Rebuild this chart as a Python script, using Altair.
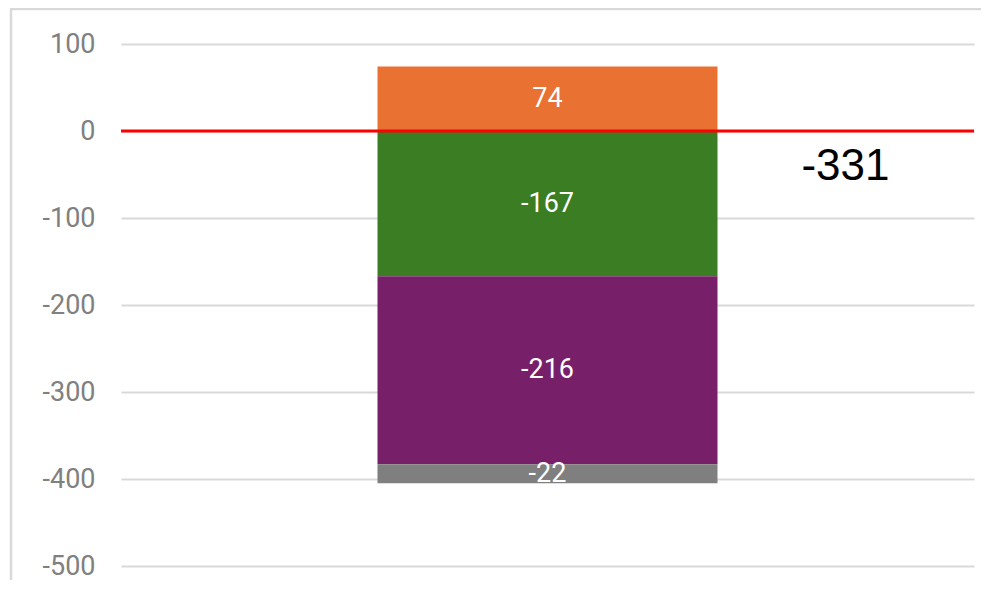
import altair as alt
import pandas as pd
import numpy as np

categories = ["A", "B", "C", "D"]
values = [74, -167, -216, -22]
colors = ["#E97132", "#3B7D23", "#772069", "#7F7F7F"]
y_ticks = [100, 0, -100, -200, -300, -400, -500]

# diverging stack: positives upward, negatives downward
starts, ends = [], []
pos, neg = 0, 0
for v in values:
    if v >= 0:
        starts.append(pos); pos += v; ends.append(pos)
    else:
        starts.append(neg); neg += v; ends.append(neg)

df = pd.DataFrame({
    "group": ["g"] * len(values),
    "cat": categories,
    "value": values,
    "label": [str(v) for v in values],
    "start": starts,
    "end": ends,
    "mid": [(s + e) / 2 for s, e in zip(starts, ends)],
})
total = int(np.sum(values))
tot_df = pd.DataFrame({"group": ["g"], "total": [str(total)], "zero": [0]})

W, H = 853, 522
yscale = alt.Scale(domain=[-500, 100], nice=False, zero=False)
xenc = alt.X("group:N", axis=None, scale=alt.Scale(paddingInner=0, paddingOuter=0))

bars = alt.Chart(df).mark_bar(size=340).encode(
    x=xenc,
    y=alt.Y("start:Q", scale=yscale,
            axis=alt.Axis(values=y_ticks, title=None, domain=False, ticks=False,
                          labelExpr="'' + datum.value",
                          labelFont="Roboto", labelFontSize=27, labelColor="#808080",
                          labelPadding=26, gridColor="#D9D9D9", gridWidth=2)),
    y2="end:Q",
    color=alt.Color("cat:N", scale=alt.Scale(domain=categories, range=colors), legend=None),
)

labels = alt.Chart(df).mark_text(color="white", font="Roboto", fontSize=27,
                                 baseline="middle", align="center").encode(
    x=xenc,
    y=alt.Y("mid:Q", scale=yscale),
    text=alt.Text("label:N"),
)

zero_line = alt.Chart(tot_df).mark_rule(color="#FF0000", strokeWidth=3).encode(
    y=alt.Y("zero:Q", scale=yscale),
)

total_label = alt.Chart(tot_df).mark_text(color="black", font="Liberation Sans", fontSize=44,
                                          baseline="middle", align="center",
                                          dx=298, dy=36).encode(
    x=xenc,
    y=alt.Y("zero:Q", scale=yscale),
    text=alt.Text("total:N"),
)

frame_left = alt.Chart(tot_df).mark_rule(color="#D9D9D9", strokeWidth=2.5).encode(
    x=alt.value(-110), y=alt.value(-35), y2=alt.value(H + 40))
frame_top = alt.Chart(tot_df).mark_rule(color="#D9D9D9", strokeWidth=2.5).encode(
    x=alt.value(-111), x2=alt.value(W + 20), y=alt.value(-35))

chart = alt.layer(frame_left, frame_top, bars, labels, zero_line, total_label).properties(
    width=W, height=H,
    background="white",
    padding={"left": 113, "top": 36, "right": 7, "bottom": 14},
    autosize=alt.AutoSizeParams(type="none"),
).configure_view(strokeWidth=0, stroke="transparent")

chart.save("out.html", embed_options={"renderer": "svg", "actions": False})
